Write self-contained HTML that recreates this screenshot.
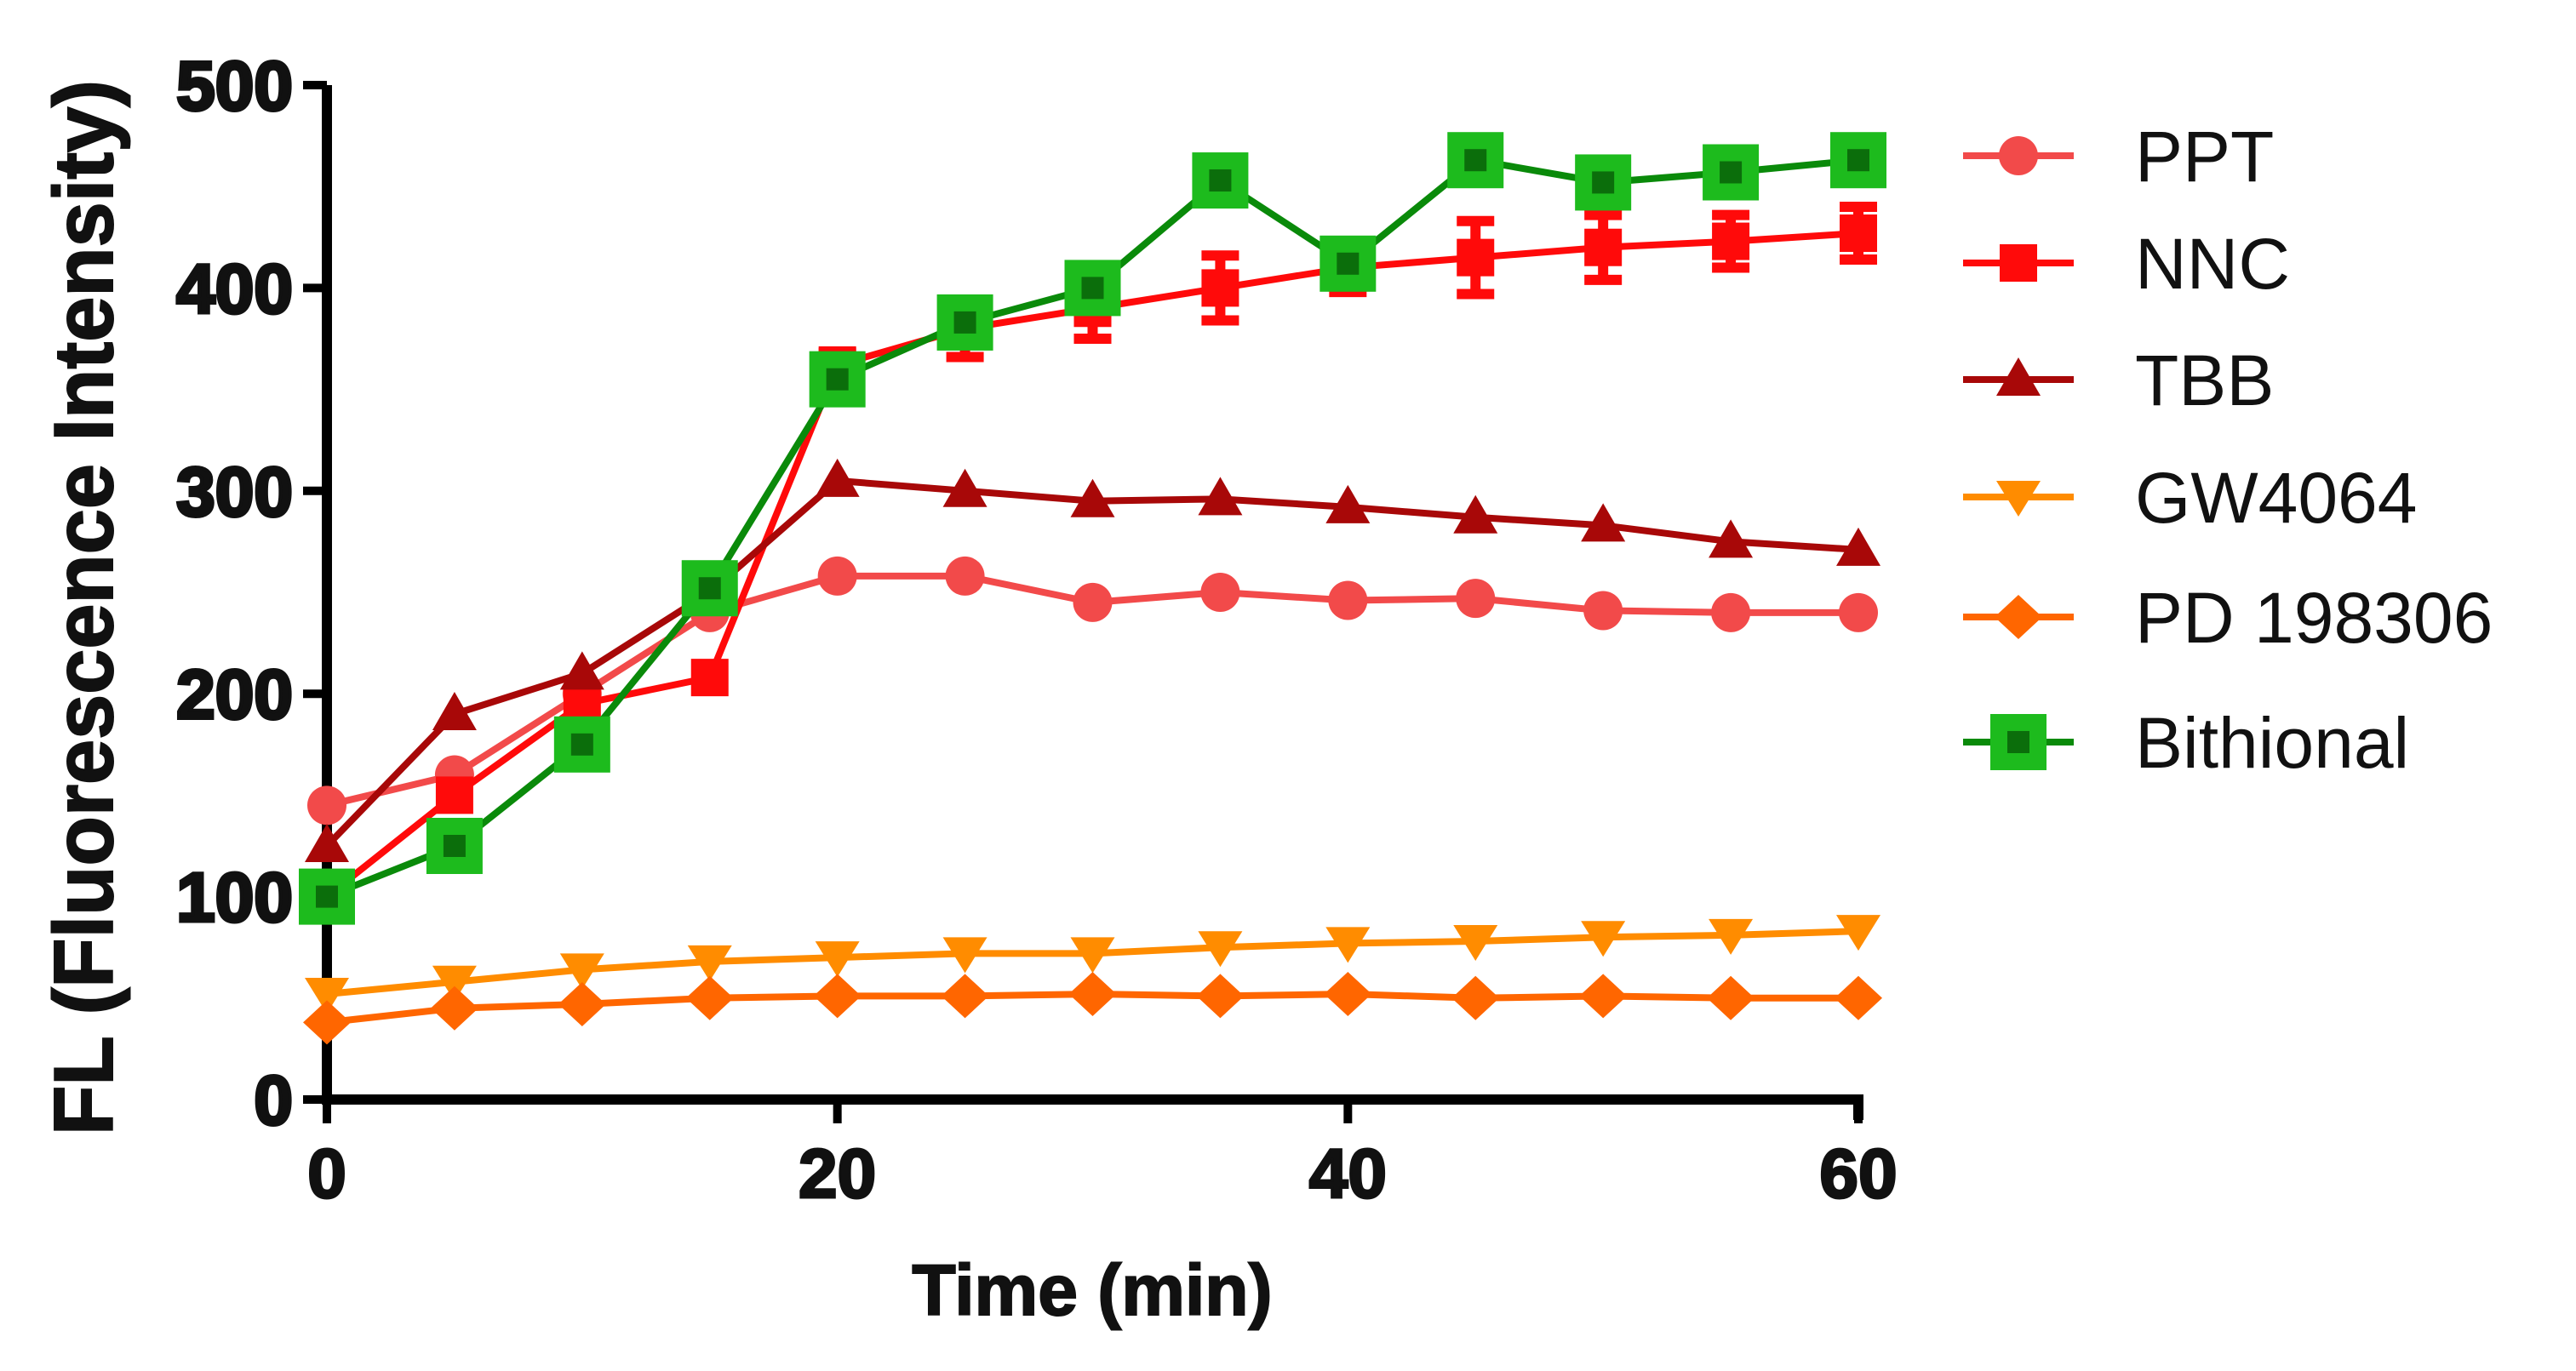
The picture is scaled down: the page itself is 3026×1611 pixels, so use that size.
<!DOCTYPE html>
<html><head><meta charset="utf-8"><style>
html,body{margin:0;padding:0;background:#fff;}
svg{display:block;}
text{font-family:"Liberation Sans",Arial,sans-serif;font-weight:bold;fill:#111;}
</style></head><body>
<svg id="chart" width="3026" height="1611" viewBox="0 0 3026 1611" xmlns="http://www.w3.org/2000/svg">
<g id="axes"></g>
<g id="series"></g>
<g id="legend"></g>
<text x="1283" y="1545" font-size="84" text-anchor="middle" stroke="#111" stroke-width="2">Time (min)</text>
<text transform="translate(132,714) rotate(-90)" font-size="98" text-anchor="middle" textLength="1240" lengthAdjust="spacingAndGlyphs" stroke="#111" stroke-width="2">FL (Fluorescence Intensity)</text>
</svg>
<script>
const times = [0,5,10,15,20,25,30,35,40,45,50,55,60];
const seriesNames = ["PPT","NNC","TBB","GW4064","PD 198306","Bithional"];
const pptValues = [145,160,200,240,258,258,245,250,246,247,241,240,240];
const nncValues = [100,150,195,208,362,380,390,400,410,415,420,423,427];
const nncErrors = [0,0,0,0,6,14,15,16,12,18,16,13,13];
const tbbValues = [125,190,210,250,305,300,295,296,292,287,283,275,271];
const gwValues = [52,58,64,68,70,72,72,75,77,78,80,81,83];
const pdValues = [38,45,47,50,51,51,52,51,52,50,51,50,50];
const bithionalValues = [100,125,175,252,355,383,400,453,412,463,452,457,463];
const yTicks = [0,100,200,300,400,500];
const xTicks = [0,20,40,60];

const NS="http://www.w3.org/2000/svg";
const X0=384,X1=2183,Y0=1292,Y1=100;
const xs=v=>X0+(v-0)/60*(X1-X0);
const ys=v=>Y0-(v/500)*(Y0-Y1);
function mk(tag,attrs,parent){const e=document.createElementNS(NS,tag);for(const k in attrs)e.setAttribute(k,attrs[k]);parent.appendChild(e);return e;}
const axes=document.getElementById('axes');
let e=mk('path',{d:`M${X0},${Y1} V${Y0} H${X1} V${Y0+24}`,stroke:'#000','stroke-width':12,fill:'none'},axes);


yTicks.forEach(t=>{
 const l=mk('line',{x1:X0-28,x2:X0,y1:ys(t),y2:ys(t),stroke:'#000','stroke-width':10},axes);
 
 
 const tx=mk('text',{x:X0-40,y:ys(t)+29,'font-size':82,'text-anchor':'end',stroke:'#111','stroke-width':4},axes);
 tx.textContent=t;
 
 
});
xTicks.forEach(t=>{
 const l=mk('line',{x1:xs(t),x2:xs(t),y1:Y0,y2:Y0+28,stroke:'#000','stroke-width':10},axes);
 
 
 const tx=mk('text',{x:xs(t),y:Y0+115,'font-size':82,'text-anchor':'middle',stroke:'#111','stroke-width':3},axes);
 tx.textContent=t;
 
 
});

const styles=[
 {c:'#f24a4a',m:'circle'},
 {c:'#ff0a0a',m:'square'},
 {c:'#a80808',m:'triangle'},
 {c:'#ff8c00',m:'tridown'},
 {c:'#ff6600',m:'diamond'},
 {c:'#0a8a0a',m:'bigsquare'}
];
const allVals=[pptValues,nncValues,tbbValues,gwValues,pdValues,bithionalValues];
function marker(g,type,x,y,c){
 let el;
 if(type==='circle')el=mk('circle',{cx:x,cy:y,r:23,fill:c},g);
 else if(type==='square')el=mk('rect',{x:x-22,y:y-22,width:44,height:44,fill:c},g);
 else if(type==='triangle')el=mk('polygon',{points:`${x},${y-26} ${x-26},${y+19} ${x+26},${y+19}`,fill:c},g);
 else if(type==='tridown')el=mk('polygon',{points:`${x},${y+23} ${x-26},${y-19} ${x+26},${y-19}`,fill:c},g);
 else if(type==='diamond')el=mk('polygon',{points:`${x},${y-26} ${x+28},${y} ${x},${y+26} ${x-28},${y}`,fill:c},g);
 else {
  el=mk('rect',{x:x-33,y:y-33,width:66,height:66,fill:'#1dbb1d'},g);
  const inner=mk('rect',{x:x-13,y:y-13,width:26,height:26,fill:'#0b6e0b'},g);
  
  
 }
 
 
}
const sg=document.getElementById('series');
allVals.forEach((vals,si)=>{
 const g=mk('g',{},sg);
 
 
 const lc=si===5?'#0a8a0a':styles[si].c;
 const p=mk('polyline',{points:vals.map((v,i)=>xs(times[i])+','+ys(v)).join(' '),fill:'none',stroke:lc,'stroke-width':8},g);
 
 
 if(si===1){
  nncErrors.forEach((er,i)=>{
   if(!er)return;
   const x=xs(times[i]);
   const b=mk('path',{d:`M${x},${ys(vals[i]-er)} V${ys(vals[i]+er)} M${x-22},${ys(vals[i]-er)} H${x+22} M${x-22},${ys(vals[i]+er)} H${x+22}`,stroke:styles[1].c,'stroke-width':12,fill:'none'},g);
   
   
  });
 }
 vals.forEach((v,i)=>marker(g,styles[si].m,xs(times[i]),ys(v),styles[si].c));
});

const lg=document.getElementById('legend');
const rowsY=[183,309,446,584,725,872];
seriesNames.forEach((n,i)=>{
 const g=mk('g',{},lg);
 
 
 const lc=i===5?'#0a8a0a':styles[i].c;
 const l=mk('line',{x1:2306,x2:2436,y1:rowsY[i],y2:rowsY[i],stroke:lc,'stroke-width':8},g);
 
 
 marker(g,styles[i].m,2371,rowsY[i],styles[i].c);
 const t=mk('text',{x:2508,y:rowsY[i]+30,'font-size':84},g);
 t.style.fontWeight='normal';
 t.textContent=n;
 
 
});
</script>
</body></html>
